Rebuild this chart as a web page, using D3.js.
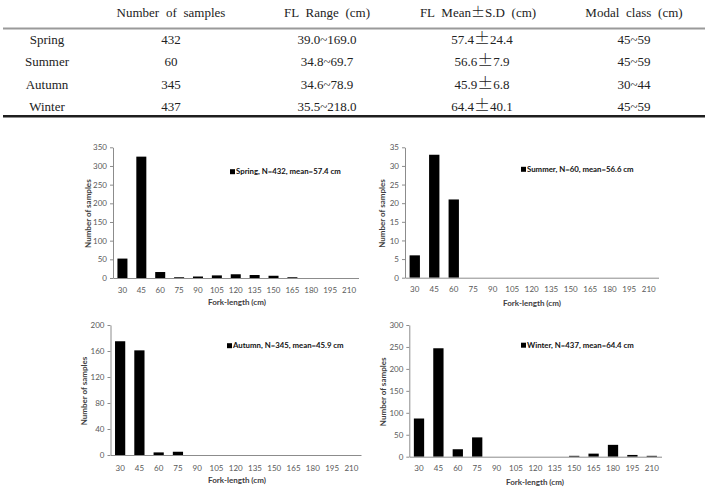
<!DOCTYPE html>
<html>
<head>
<meta charset="utf-8">
<script src="https://cdn.jsdelivr.net/npm/d3@7"></script>
<style>
  html, body { margin: 0; padding: 0; background: #fff; }
  svg { display: block; }
</style>
</head>
<body>
<svg id="chart" width="708" height="487"></svg>
<script>
// ---------- DATA ----------
const tableHeaders = ["Number of samples", "FL Range (cm)", "FL Mean±S.D (cm)", "Modal class (cm)"];
const seasons = ["Spring", "Summer", "Autumn", "Winter"];
const sampleCounts = ["432", "60", "345", "437"];
const flRanges = ["39.0~169.0", "34.8~69.7", "34.6~78.9", "35.5~218.0"];
const flMeans = ["57.4", "56.6", "45.9", "64.4"];
const flSDs = ["24.4", "7.9", "6.8", "40.1"];
const modalClasses = ["45~59", "45~59", "30~44", "45~59"];

const lengthClasses = [30, 45, 60, 75, 90, 105, 120, 135, 150, 165, 180, 195, 210];
const springCounts = [52, 325, 16, 2, 4, 7, 10, 8, 6, 2, 0, 0, 0];
const summerCounts = [6, 33, 21, 0, 0, 0, 0, 0, 0, 0, 0, 0, 0];
const autumnCounts = [175, 161, 4, 5, 0, 0, 0, 0, 0, 0, 0, 0, 0];
const winterCounts = [87, 247, 17, 44, 0, 0, 0, 0, 2, 7, 27, 4, 2];

const legendLabels = [
  "Spring, N=432, mean=57.4 cm",
  "Summer, N=60, mean=56.6 cm",
  "Autumn, N=345, mean=45.9 cm",
  "Winter, N=437, mean=64.4 cm"
];
const yMaxes = [350, 35, 200, 300];
const ySteps = [50, 5, 40, 50];
const xTitle = "Fork-length (cm)";
const yTitle = "Number of samples";

// ---------- DRAW ----------
const svg = d3.select("#chart");
const serif = "'Liberation Serif', 'Times New Roman', serif";
const sans = "Lato, 'Open Sans', sans-serif";

// Table
const colX = [171, 327, 478, 634];
const labelX = 47;
const headerY = 17;
const rowY = [44.3, 66.3, 88.5, 110.7];

svg.append("line").attr("x1", 3).attr("x2", 705).attr("y1", 28.5).attr("y2", 28.5)
  .attr("stroke", "#9a9a9a").attr("stroke-width", 2);
svg.append("line").attr("x1", 3).attr("x2", 705).attr("y1", 116.3).attr("y2", 116.3)
  .attr("stroke", "#1e1e1e").attr("stroke-width", 2.6);

const headerG = svg.append("g").attr("font-family", serif).attr("font-size", 13).attr("fill", "#222");
tableHeaders.forEach((h, i) => {
  const t = headerG.append("text").attr("x", colX[i]).attr("y", headerY)
    .attr("text-anchor", "middle").attr("word-spacing", 3.5);
  if (h.includes("±")) {
    const parts = h.split("±");
    t.append("tspan").text(parts[0]);
    t.append("tspan").attr("font-family", "'Noto Sans CJK KR'").attr("font-size", 14).attr("font-weight", 300).text("±");
    t.append("tspan").text(parts[1]);
  } else {
    t.text(h);
  }
});

const bodyG = svg.append("g").attr("font-family", serif).attr("font-size", 13).attr("fill", "#222");
seasons.forEach((s, i) => {
  bodyG.append("text").attr("x", labelX).attr("y", rowY[i]).attr("text-anchor", "middle").text(s);
  bodyG.append("text").attr("x", colX[0]).attr("y", rowY[i]).attr("text-anchor", "middle").text(sampleCounts[i]);
  bodyG.append("text").attr("x", colX[1]).attr("y", rowY[i]).attr("text-anchor", "middle").text(flRanges[i]);
  const t = bodyG.append("text").attr("x", colX[2] + 4).attr("y", rowY[i]).attr("text-anchor", "middle");
  t.append("tspan").text(flMeans[i]);
  t.append("tspan").attr("font-family", "'Noto Sans CJK KR'").attr("font-size", 16).attr("font-weight", 300).text("±");
  t.append("tspan").text(flSDs[i]);
  bodyG.append("text").attr("x", colX[3]).attr("y", rowY[i]).attr("text-anchor", "middle").text(modalClasses[i]);
});

// Histograms
const panels = [
  { data: springCounts, left: 113, right: 358.5, top: 147.3, bottom: 278, legX: 230, legY: 171.7, yTitleX: 88, xTitleX: 237, xTitleY: 305, xLabY: 292.5 },
  { data: summerCounts, left: 405, right: 658.5, top: 147.3, bottom: 277.7, legX: 521, legY: 169.3, yTitleX: 382, xTitleX: 532, xTitleY: 305.5, xLabY: 292.5 },
  { data: autumnCounts, left: 110.5, right: 361, top: 325, bottom: 455, legX: 227, legY: 345.7, yTitleX: 84, xTitleX: 237, xTitleY: 483, xLabY: 471 },
  { data: winterCounts, left: 409.3, right: 661.5, top: 325, bottom: 456.7, legX: 521, legY: 345.2, yTitleX: 383, xTitleX: 535, xTitleY: 484.5, xLabY: 471.5 }
];

panels.forEach((p, i) => {
  const g = svg.append("g");
  const x = d3.scaleBand().domain(lengthClasses).range([p.left, p.right]).paddingInner(0.47).paddingOuter(0.235);
  const y = d3.scaleLinear().domain([0, yMaxes[i]]).range([p.bottom, p.top]);
  const ticks = d3.range(0, yMaxes[i] + ySteps[i] / 2, ySteps[i]);

  // y axis
  const yAxis = d3.axisLeft(y).tickValues(ticks).tickSize(3).tickPadding(3).tickSizeOuter(0);
  const ya = g.append("g").attr("transform", `translate(${p.left},0)`).call(yAxis);
  ya.select(".domain").attr("stroke", "#8c8c8c");
  ya.selectAll(".tick line").attr("stroke", "#8c8c8c");
  ya.selectAll(".tick text").attr("font-family", sans).attr("font-size", 8).attr("fill", "#595959");

  // bars
  g.selectAll("rect.bar").data(p.data).join("rect").attr("class", "bar")
    .attr("x", (d, j) => x(lengthClasses[j]))
    .attr("width", x.bandwidth())
    .attr("y", d => y(d))
    .attr("height", d => y(0) - y(d))
    .attr("fill", "#000");

  // x axis
  const xAxis = d3.axisBottom(x).tickSize(0).tickPadding(0).tickSizeOuter(0);
  const xa = g.append("g").attr("transform", `translate(0,${p.bottom})`).call(xAxis);
  xa.select(".domain").attr("stroke", "#8c8c8c");
  xa.selectAll(".tick text").attr("font-family", sans).attr("font-size", 8).attr("fill", "#595959")
    .attr("y", p.xLabY - p.bottom).attr("dy", 0);

  // axis titles
  g.append("text").attr("x", p.xTitleX).attr("y", p.xTitleY).attr("text-anchor", "middle")
    .attr("font-family", sans).attr("font-size", 8).attr("font-weight", "bold").attr("fill", "#404040").text(xTitle);
  const cy = (p.top + p.bottom) / 2 + 1;
  g.append("text").attr("transform", `translate(${p.yTitleX},${cy}) rotate(-90)`).attr("text-anchor", "middle")
    .attr("dy", "0.35em")
    .attr("font-family", sans).attr("font-size", 8).attr("font-weight", "bold").attr("fill", "#404040").text(yTitle);

  // legend
  g.append("rect").attr("x", p.legX).attr("y", p.legY - 2.5).attr("width", 5).attr("height", 5).attr("fill", "#000");
  g.append("text").attr("x", p.legX + 6).attr("y", p.legY).attr("dy", "0.35em")
    .attr("font-family", sans).attr("font-size", 7.8).attr("font-weight", "bold").attr("fill", "#111").text(legendLabels[i]);
});
</script>
</body>
</html>
